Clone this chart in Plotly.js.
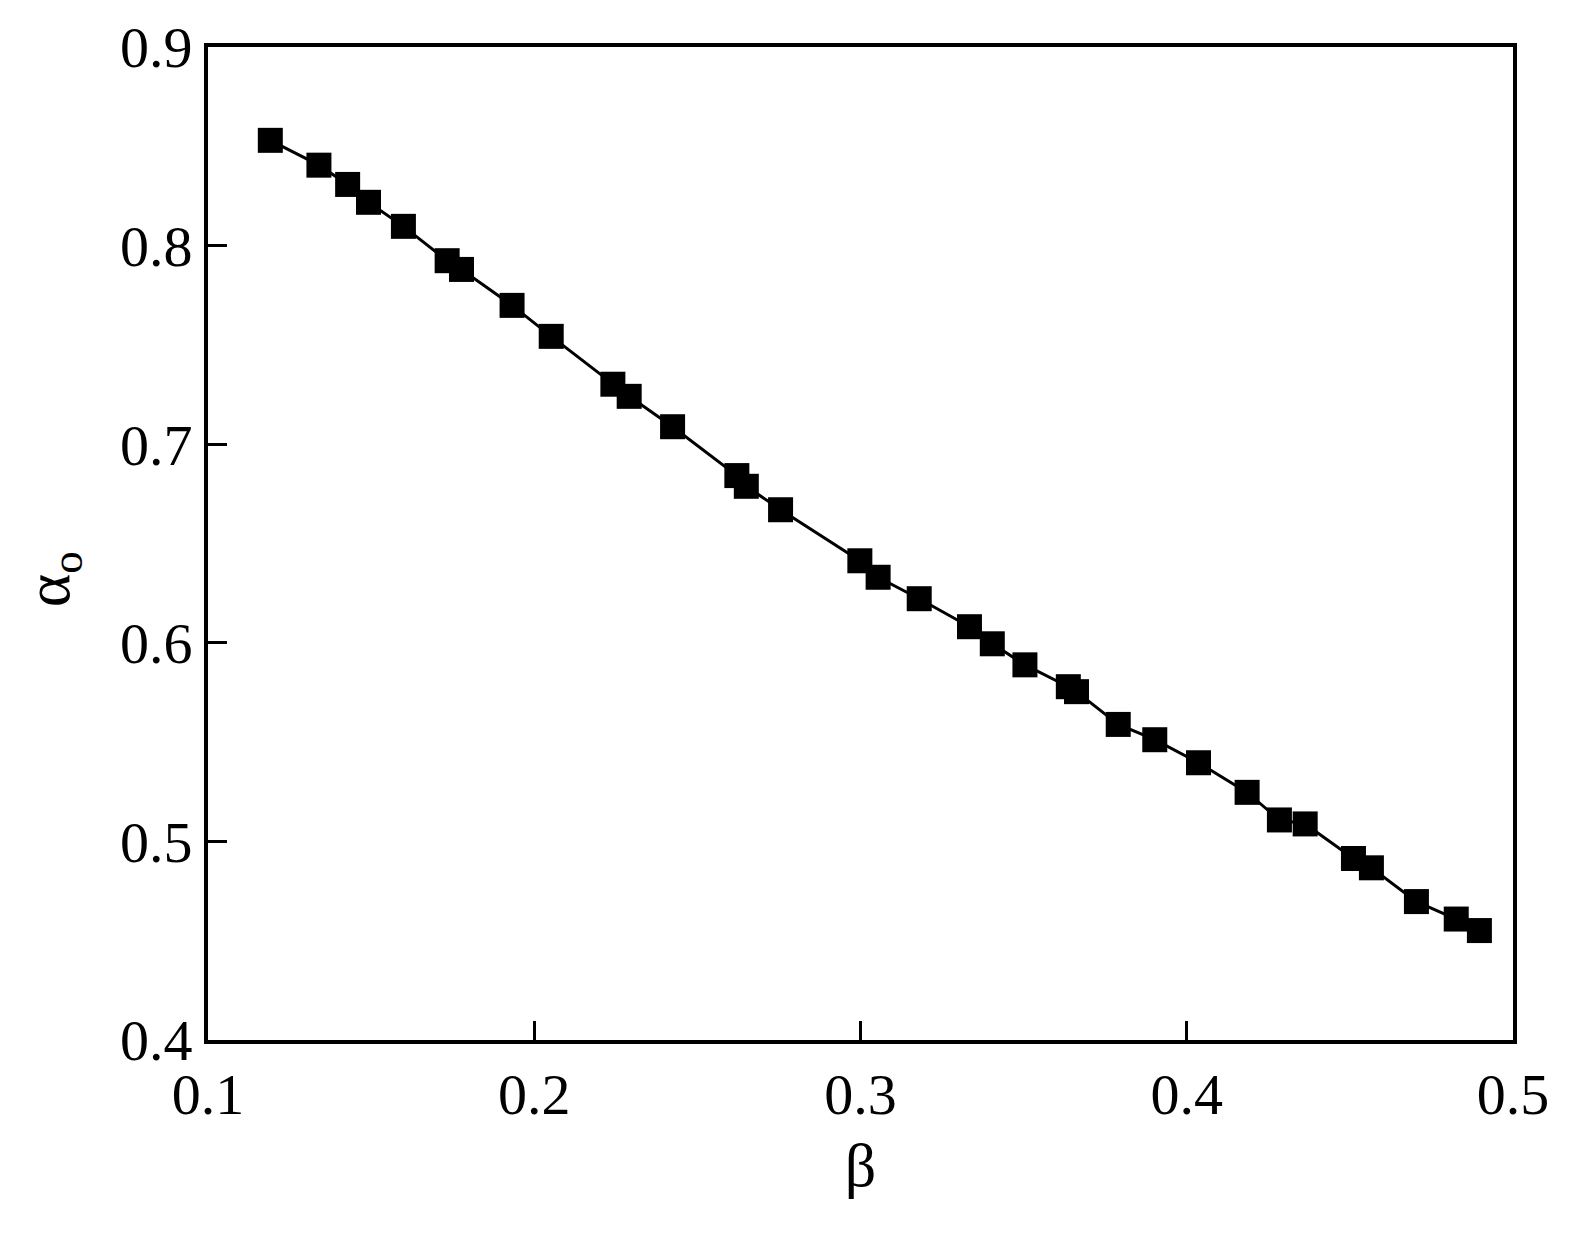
<!DOCTYPE html>
<html>
<head>
<meta charset="utf-8">
<script src="https://cdn.plot.ly/plotly-3.0.1.min.js"></script>
<style>
  html, body { margin: 0; padding: 0; background: #fff; }
  #chart { width: 1571px; height: 1237px; }
</style>
</head>
<body>
<div id="chart"></div>
<script>
// beta values (x)
let beta = [
  0.1191, 0.1340, 0.1428, 0.1492, 0.1599, 0.1733, 0.1777, 0.1932, 0.2052,
  0.2241, 0.2291, 0.2424, 0.2621, 0.2650, 0.2755, 0.2998, 0.3054, 0.3180,
  0.3334, 0.3404, 0.3504, 0.3637, 0.3662, 0.3790, 0.3902, 0.4036, 0.4185,
  0.4284, 0.4363, 0.4511, 0.4566, 0.4704, 0.4826, 0.4897
];
// alpha_o values (y)
let alphaO = [
  0.8530, 0.8405, 0.8308, 0.8218, 0.8097, 0.7924, 0.7880, 0.7699, 0.7543,
  0.7302, 0.7241, 0.7088, 0.6842, 0.6788, 0.6670, 0.6413, 0.6330, 0.6222,
  0.6081, 0.5995, 0.5889, 0.5779, 0.5754, 0.5589, 0.5512, 0.5396, 0.5247,
  0.5108, 0.5088, 0.4914, 0.4867, 0.4697, 0.4609, 0.4551
];
let xTicks = [0.1, 0.2, 0.3, 0.4, 0.5];
let yTicks = [0.4, 0.5, 0.6, 0.7, 0.8, 0.9];

let fontFamily = "'Liberation Serif', 'Times New Roman', serif";

let data = [{
  x: beta,
  y: alphaO,
  type: "scatter",
  mode: "lines+markers",
  line: { color: "#000", width: 3 },
  marker: { symbol: "square", size: 25, color: "#000", line: { width: 0 } },
  showlegend: false
}];

let axisStyle = {
  ticks: "inside",
  ticklen: 19,
  tickwidth: 3,
  tickcolor: "#000",
  showline: true,
  linewidth: 4,
  linecolor: "#000",
  mirror: true,
  showgrid: false,
  zeroline: false,
  tickfont: { size: 58 }
};

let layout = {
  width: 1571,
  height: 1237,
  paper_bgcolor: "#fff",
  plot_bgcolor: "#fff",
  font: { family: fontFamily, color: "#000", size: 58 },
  margin: { l: 208, r: 58, t: 47, b: 197 },
  xaxis: Object.assign({}, axisStyle, {
    range: [0.1, 0.5],
    tickvals: xTicks,
    ticktext: xTicks.map(v => v.toFixed(1)),
    title: { text: "β", font: { size: 62 }, standoff: 18 }
  }),
  yaxis: Object.assign({}, axisStyle, {
    range: [0.4, 0.9],
    tickvals: yTicks,
    ticktext: yTicks.map(v => v.toFixed(1))
  }),
  // y title placed as annotation so it can sit a little below centre, as in the original
  annotations: [{
    text: "α<sub>o</sub>",
    textangle: -90,
    xref: "paper", yref: "paper",
    x: 0, y: 0.464,
    xanchor: "center", yanchor: "middle",
    xshift: -156,
    showarrow: false,
    font: { size: 64 }
  }]
};

Plotly.newPlot("chart", data, layout, { staticPlot: true });
</script>
</body>
</html>
